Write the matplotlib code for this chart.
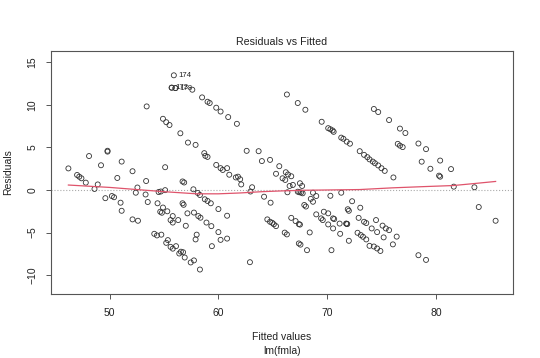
import matplotlib
matplotlib.use("Agg")
import matplotlib.pyplot as plt

# fitted values and residuals
fitted = [
    # upper half
    55.7, 56.05, 57.6, 58.5, 59.0, 59.2, 59.8, 60.2, 60.9, 61.7,
    53.4, 54.9, 55.2, 55.5, 56.5, 57.2, 57.9, 58.7, 58.8, 59.0,
    49.8, 49.8, 48.1, 51.1, 49.2, 52.1, 55.1, 46.2, 47.0, 47.2, 47.4, 50.7, 53.35, 56.7, 56.85,
    66.3, 67.3, 68.0, 69.5, 70.1, 70.3, 70.5, 70.6, 71.3, 71.5, 71.8, 72.1,
    73.0, 73.4, 73.7, 73.9, 74.2, 74.4, 74.7, 75.0, 75.3, 76.1,
    74.3, 74.7, 75.7, 76.7, 77.2, 76.5, 76.7, 76.95, 78.4, 79.1, 78.7, 80.4, 79.5, 81.4, 80.3, 80.4,
    62.6, 63.7, 64.0, 64.75, 59.8, 60.2, 60.8, 60.4, 61.0, 61.6, 61.8,
    65.6, 65.3, 66.2, 66.4, 66.7, 65.9, 66.15, 62.0,
    # lower half
    47.8, 48.6, 48.9, 49.6, 50.2, 50.4, 51.0, 51.1, 52.1, 52.6, 52.4, 52.55, 53.3, 53.5,
    54.4, 54.5, 54.7, 54.65, 54.8, 54.9, 55.1, 55.3, 55.8, 55.6, 55.8, 56.3,
    54.1, 54.35, 54.75, 55.2, 55.35, 55.6, 55.8, 56.1, 56.4, 56.55, 56.75, 56.9, 57.45, 57.75, 58.3,
    56.7, 56.8, 57.0, 57.15, 57.7, 57.75, 58.1, 58.3, 58.15, 58.35, 58.0, 57.9,
    58.75, 59.0, 58.9, 59.3, 59.35, 59.4, 60.0, 60.0, 60.2, 60.8, 60.8,
    62.1, 62.9, 62.95, 63.1, 64.2, 64.5, 64.75, 64.95, 65.1, 65.3, 64.8,
    66.85, 66.55, 67.5, 67.7, 66.35, 67.3, 67.45, 67.6, 67.75, 68.7, 69.0, 68.5, 68.7, 67.9, 68.05,
    70.3, 71.3, 72.3, 73.05, 71.9, 72.0, 69.0, 69.45, 69.6, 69.7, 70.1, 70.55, 70.65,
    70.1, 70.55, 71.15, 71.75, 71.8, 71.85, 71.2, 70.4, 72.0,
    66.7, 67.1, 67.4, 67.5, 68.4, 66.1, 66.3, 67.4, 67.55, 68.15,
    72.9, 73.4, 73.6, 74.5, 74.1, 74.6, 75.1, 75.4, 75.7, 75.2, 76.4, 76.05,
    72.8, 73.1, 73.3, 73.6, 73.9, 74.3, 74.6, 74.9,
    81.65, 83.55, 83.95, 85.5, 78.4, 79.1,
]
resid = [
    12.0, 11.95, 11.76, 10.86, 10.35, 10.2, 9.65, 9.2, 8.55, 7.76,
    9.8, 8.35, 7.95, 7.62, 6.65, 5.56, 5.29, 4.32, 4.0, 3.88,
    4.6, 4.5, 3.98, 3.33, 2.9, 2.2, 2.67, 2.53, 1.76, 1.56, 1.37, 1.41, 1.05, 1.0, 0.88,
    11.2, 10.2, 9.41, 8.0, 7.25, 7.12, 6.98, 6.82, 6.14, 6.0, 5.67, 5.43,
    4.55, 4.12, 3.85, 3.59, 3.33, 3.14, 2.88, 2.55, 2.24, 1.47,
    9.5, 9.14, 8.2, 7.2, 6.68, 5.41, 5.2, 5.03, 5.45, 4.79, 3.32, 3.45, 2.49, 2.45, 1.68, 1.56,
    4.59, 4.55, 3.39, 3.53, 2.94, 2.56, 2.56, 2.35, 1.79, 1.47, 1.56,
    2.79, 1.9, 2.08, 1.82, 1.61, 1.37, 1.18, 1.26,
    0.86, 0.12, 0.65, -0.96, -0.71, -0.85, -1.49, -2.44, -3.45, -3.61, -0.32, 0.29, -0.53, -1.41,
    -1.56, -0.24, -0.18, -2.55, -2.67, -2.06, -0.02, -2.5, -3.06, -3.53, -3.82, -3.53,
    -5.14, -5.33, -5.24, -6.2, -5.88, -6.67, -6.88, -6.59, -7.45, -7.24, -7.3, -7.92, -8.5, -8.26, -9.33,
    -1.56, -1.74, -4.2, -2.74, 0.08, -2.65, -0.35, -0.59, -3.06, -3.25, -5.24, -5.8,
    -1.09, -1.29, -3.82, -1.56, -4.24, -6.59, -2.24, -4.94, -5.85, -3.02, -5.7,
    0.65, -8.47, -0.18, 0.32, -0.79, -3.45, -3.73, -3.85, -4.02, -4.24, -1.49,
    0.59, 0.47, 0.79, 0.47, -0.27, -0.2, -0.27, -0.3, -0.39, -0.32, -0.71, -1.04, -1.38, -1.76, -1.94,
    -0.68, -0.32, -1.32, -2.08, -2.26, -2.44, -2.86, -3.33, -3.53, -2.55, -2.74, -3.33, -3.41,
    -4.04, -4.51, -3.94, -3.94, -3.96, -4.0, -5.14, -7.06, -5.96,
    -3.27, -3.65, -4.0, -4.06, -4.98, -5.0, -5.21, -6.27, -6.41, -7.06,
    -3.27, -3.73, -3.88, -3.53, -4.51, -4.94, -4.18, -4.51, -4.71, -5.56, -5.47, -6.38,
    -5.02, -5.29, -5.49, -5.8, -6.55, -6.63, -6.86, -7.15,
    0.39, 0.32, -2.0, -3.61, -7.65, -8.2,
]

# the three labelled observations
id_labels = ["174", "173", "178"]
id_fitted = [55.9, 55.7, 56.05]
id_resid = [13.45, 12.0, 11.95]

# smoother (red line)
smooth_x = [46.2, 50, 52.5, 55, 58, 60, 62, 64, 66, 68, 70, 73, 76, 79, 81.6, 83.5, 85.5]
smooth_y = [0.58, 0.3, 0.05, -0.2, -0.45, -0.45, -0.35, -0.2, -0.1, -0.03, 0.0, 0.05, 0.25, 0.4, 0.52, 0.75, 1.0]

plt.rcParams["font.family"] = ["Liberation Sans", "DejaVu Sans"]

W, H = 540, 358
fig = plt.figure(figsize=(W / 100, H / 100), dpi=100)
ax = fig.add_axes([51 / W, 1 - 294 / H, (513 - 51) / W, (294 - 51) / H])

ax.axhline(0, color="#aaaaaa", ls=":", lw=0.8, zorder=1)
ax.scatter(fitted + id_fitted, resid + id_resid, s=13, facecolors="none",
           edgecolors="#333333", linewidths=0.6, zorder=2)
ax.plot(smooth_x, smooth_y, color="#DF536B", lw=0.9, zorder=3)

for lab, x, y in zip(id_labels, id_fitted, id_resid):
    ax.annotate(lab, (x, y), xytext=(2.9, 0), textcoords="offset points",
                ha="left", va="center", fontsize=5.6, color="#222222")

ax.set_xlim(44.6, 87.1)
ax.set_ylim(-12.2, 16.3)
ax.set_xticks([50, 60, 70, 80])
ax.set_yticks([-10, -5, 0, 5, 10, 15])
ax.tick_params(direction="out", length=3.6, width=0.7, color="#555555",
               labelsize=7.5, labelcolor="#222222")
ax.tick_params(axis="x", pad=6.5)
ax.tick_params(axis="y", pad=6.0)
for lbl in ax.get_yticklabels():
    lbl.set_rotation(90)
    lbl.set_va("center")
for sp in ax.spines.values():
    sp.set_color("#555555")
    sp.set_linewidth(0.8)

cx = (51 + 513) / 2 / W
fig.text(cx, 1 - 42 / H, "Residuals vs Fitted", ha="center", va="center",
         fontsize=7.7, color="#222222")
fig.text(cx, 1 - 337 / H, "Fitted values", ha="center", va="center",
         fontsize=7.5, color="#222222")
fig.text(cx, 1 - 351 / H, "lm(fmla)", ha="center", va="center",
         fontsize=7.5, color="#222222")
fig.text(8 / W, 1 - 172.5 / H, "Residuals", ha="center", va="center",
         rotation=90, fontsize=7.5, color="#222222")

fig.savefig("out.png", dpi=100)
